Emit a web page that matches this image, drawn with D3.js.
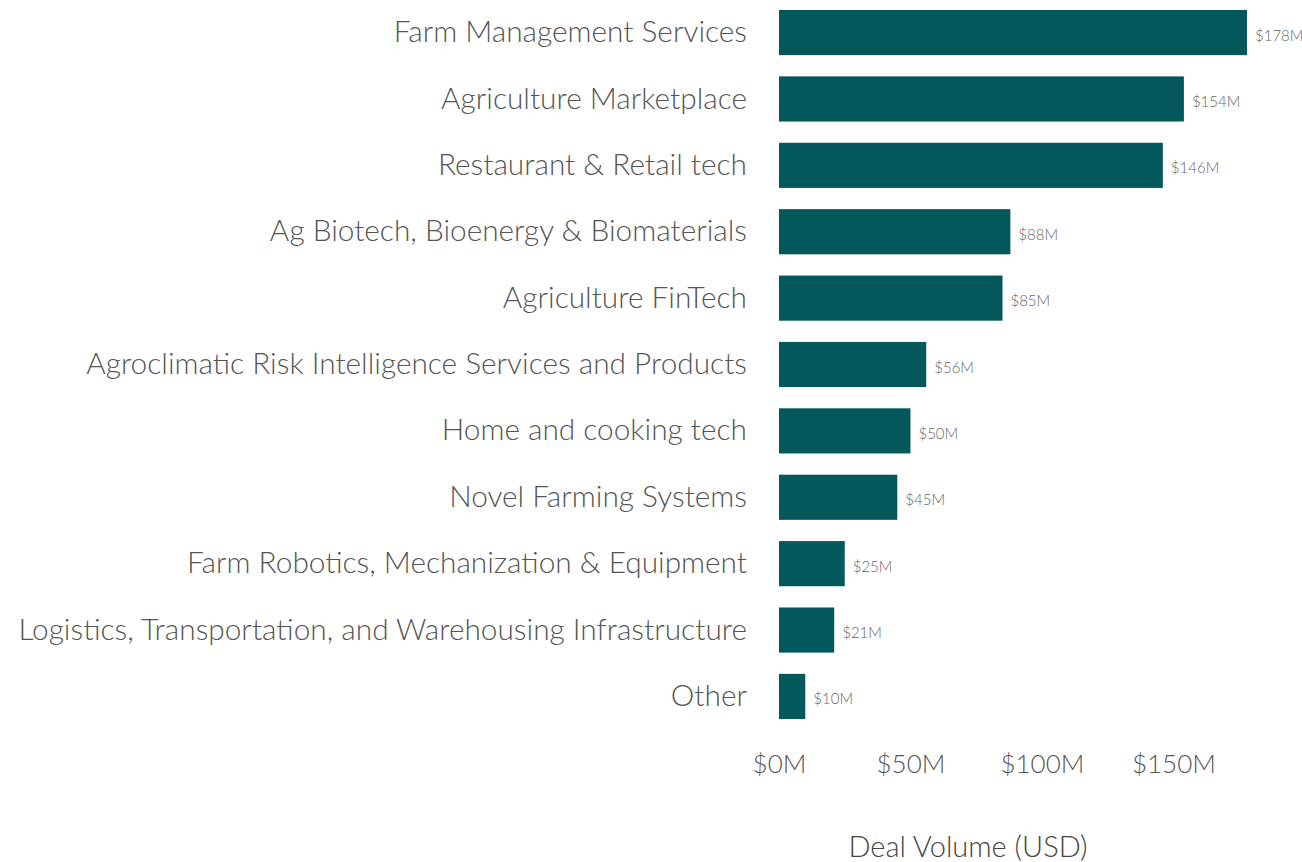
<!DOCTYPE html>
<html>
<head>
<meta charset="utf-8">
<script src="https://cdn.jsdelivr.net/npm/d3@7"></script>
<style>
body { margin: 0; background: #fff; }
svg { font-family: "Lato", sans-serif; font-weight: 300; }
.axis path, .axis line { display: none; }
</style>
</head>
<body>
<svg id="chart" width="1302" height="862"></svg>
<script>
var categories = [
    "Farm Management Services",
    "Agriculture Marketplace",
    "Restaurant & Retail tech",
    "Ag Biotech, Bioenergy & Biomaterials",
    "Agriculture FinTech",
    "Agroclimatic Risk Intelligence Services and Products",
    "Home and cooking tech",
    "Novel Farming Systems",
    "Farm Robotics, Mechanization & Equipment",
    "Logistics, Transportation, and Warehousing Infrastructure",
    "Other"
]
var values = [178, 154, 146, 88, 85, 56, 50, 45, 25, 21, 10]
var ticks = [0, 50, 100, 150]

var margin = { top: 0, left: 779 }
var svg = d3.select("#chart")
var g = svg.append("g").attr("transform", "translate(" + margin.left + "," + margin.top + ")")

var x = d3.scaleLinear().domain([0, 178]).range([0, 468])
var y = d3.scaleBand().domain(categories).range([10, 719]).paddingInner(0.32).paddingOuter(0)

var fmt = d => "$" + d + "M"

g.selectAll(".bar")
    .data(values)
    .enter().append("rect")
    .attr("class", "bar")
    .attr("x", 0)
    .attr("y", (d, i) => y(categories[i]))
    .attr("width", d => x(d))
    .attr("height", y.bandwidth())
    .attr("fill", "#02585a")

g.selectAll(".val")
    .data(values)
    .enter().append("text")
    .attr("class", "val")
    .attr("x", d => x(d) + 8)
    .attr("y", (d, i) => y(categories[i]) + y.bandwidth() / 2 + 8)
    .attr("font-size", 15)
    .attr("fill", "#666")
    .text(fmt)

// category labels
g.append("g")
    .attr("class", "axis")
    .call(d3.axisLeft(y).tickSize(0).tickPadding(32))
    .selectAll("text")
    .attr("font-size", 29.8)
    .attr("fill", "#555")
    .attr("font-family", "Lato")
    .attr("font-weight", 300)

// x axis
g.append("g")
    .attr("class", "axis")
    .attr("transform", "translate(0,755)")
    .call(d3.axisBottom(x).tickValues(ticks).tickFormat(fmt).tickSize(0).tickPadding(0))
    .selectAll("text")
    .attr("font-size", 26)
    .attr("fill", "#555")
    .attr("font-family", "Lato")
    .attr("font-weight", 300)

svg.append("text")
    .attr("x", 968)
    .attr("y", 857)
    .attr("text-anchor", "middle")
    .attr("font-size", 29)
    .attr("fill", "#444")
    .text("Deal Volume (USD)")
</script>
</body>
</html>
